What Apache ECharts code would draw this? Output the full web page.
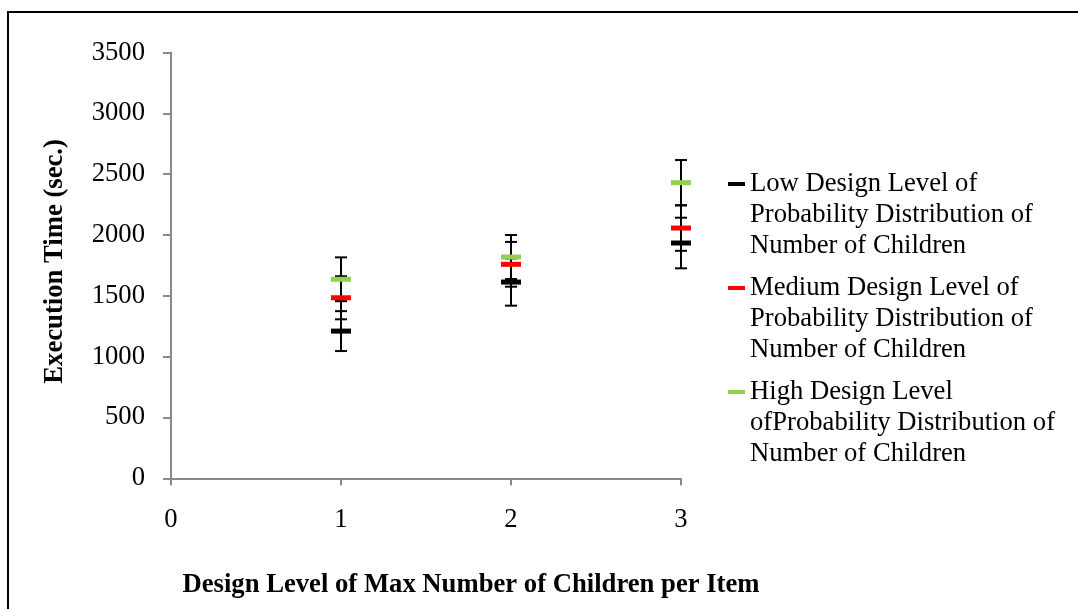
<!DOCTYPE html>
<html>
<head>
<meta charset="utf-8">
<title>Execution Time by Design Level</title>
<script src="https://cdn.jsdelivr.net/npm/echarts@6/dist/echarts.min.js"></script>
<style>
  html, body { margin: 0; padding: 0; background: #ffffff; }
  #chart { width: 1078px; height: 609px; }
</style>
</head>
<body>
<div id="chart"></div>
<script>
// Design levels of max number of children per item (x positions)
const levels = [1, 2, 3];

// Mean execution time (sec.) per probability-distribution design level
const lowMeans = [1210, 1613, 1934];
const mediumMeans = [1484, 1759, 2057];
const highMeans = [1636, 1819, 2430];

// Half-width of each error bar (sec.)
const lowErrors = [164, 194, 208];
const mediumErrors = [177, 184, 187];
const highErrors = [180, 181, 186];

const seriesNames = [
  'Low Design Level of Probability Distribution of Number of Children',
  'Medium Design Level of Probability Distribution of Number of Children',
  'High Design Level ofProbability Distribution of Number of Children'
];
const legendLabels = [
  'Low Design Level of\nProbability Distribution of\nNumber of Children',
  'Medium Design Level of\nProbability Distribution of\nNumber of Children',
  'High Design Level\nofProbability Distribution of\nNumber of Children'
];
const seriesColors = ['#000000', '#ff0000', '#92d050'];

const yTicks = [0, 500, 1000, 1500, 2000, 2500, 3000, 3500];
const xTicks = [0, 1, 2, 3];

const FONT = "'Liberation Serif', 'Times New Roman', serif";
const FS = 26.67;
const AXIS_GRAY = '#898989';

// Legend marker: a short dash sitting on the first line of a three-line label
const LEGEND_ICON = 'path://M0,0 M0,13.5 L17,13.5 L17,17.5 L0,17.5 Z M0,93';

function pointData(means) {
  return levels.map((x, i) => [x, means[i]]);
}
function rangeData(means, errs) {
  return levels.map((x, i) => [x, means[i] - errs[i], means[i] + errs[i]]);
}

// Vertical error bar with end caps
function renderErrorBar(params, api) {
  const x = api.value(0);
  const lo = api.coord([x, api.value(1)]);
  const hi = api.coord([x, api.value(2)]);
  const cap = 6;
  const style = { stroke: '#000000', lineWidth: 2 };
  return {
    type: 'group',
    children: [
      { type: 'line', shape: { x1: lo[0], y1: lo[1], x2: hi[0], y2: hi[1] }, style },
      { type: 'line', shape: { x1: hi[0] - cap, y1: hi[1], x2: hi[0] + cap, y2: hi[1] }, style },
      { type: 'line', shape: { x1: lo[0] - cap, y1: lo[1], x2: lo[0] + cap, y2: lo[1] }, style }
    ]
  };
}

const meansList = [lowMeans, mediumMeans, highMeans];
const errList = [lowErrors, mediumErrors, highErrors];

const errorSeries = meansList.map((m, k) => ({
  name: seriesNames[k] + ' error',
  type: 'custom',
  renderItem: renderErrorBar,
  encode: { x: 0, y: [1, 2] },
  data: rangeData(m, errList[k]),
  silent: true,
  z: 2
}));

const pointSeries = meansList.map((m, k) => ({
  name: seriesNames[k],
  type: 'scatter',
  symbol: 'rect',
  symbolSize: [20, 5],
  itemStyle: { color: seriesColors[k], opacity: 1 },
  data: pointData(m),
  z: 3
}));

const chart = echarts.init(document.getElementById('chart'), null, { renderer: 'canvas' });

chart.setOption({
  backgroundColor: '#ffffff',
  animation: false,
  textStyle: { fontFamily: FONT },
  graphic: [{
    type: 'rect',
    shape: { x: 8, y: 12, width: 1200, height: 800 },
    style: { fill: 'none', stroke: '#000000', lineWidth: 2 },
    silent: true,
    z: 0
  }],
  grid: { left: 171, right: 397, top: 52.5, bottom: 130.7, containLabel: false },
  legend: {
    orient: 'vertical',
    left: 728,
    top: 168.5,
    padding: 0,
    itemWidth: 17,
    itemHeight: 93,
    itemGap: 11,
    selectedMode: false,
    data: seriesNames.map(n => ({ name: n, icon: LEGEND_ICON })),
    formatter: name => legendLabels[seriesNames.indexOf(name)],
    textStyle: { fontFamily: FONT, fontSize: FS, color: '#000000', lineHeight: 31 }
  },
  xAxis: {
    type: 'value',
    min: xTicks[0],
    max: xTicks[xTicks.length - 1],
    interval: 1,
    name: 'Design Level of Max Number of Children per Item',
    nameLocation: 'middle',
    nameGap: 93,
    nameTextStyle: { fontFamily: FONT, fontSize: FS, fontWeight: 'bold', color: '#000000', padding: [0, 0, 0, 90] },
    axisLine: { show: true, onZero: false, lineStyle: { color: AXIS_GRAY, width: 2 } },
    axisTick: { show: true, inside: false, length: 7, lineStyle: { color: AXIS_GRAY, width: 2 } },
    axisLabel: { fontFamily: FONT, fontSize: FS, color: '#000000', margin: 28, formatter: v => String(v) },
    splitLine: { show: false }
  },
  yAxis: {
    type: 'value',
    min: yTicks[0],
    max: yTicks[yTicks.length - 1],
    interval: 500,
    name: 'Execution Time (sec.)',
    nameLocation: 'middle',
    nameRotate: 90,
    nameGap: 102,
    nameTextStyle: { fontFamily: FONT, fontSize: FS, fontWeight: 'bold', color: '#000000', padding: [0, 0, 0, 8] },
    axisLine: { show: true, onZero: false, lineStyle: { color: AXIS_GRAY, width: 2 } },
    axisTick: { show: true, inside: false, length: 8, lineStyle: { color: AXIS_GRAY, width: 2 } },
    axisLabel: { fontFamily: FONT, fontSize: FS, color: '#000000', margin: 26, formatter: v => String(v) },
    splitLine: { show: false }
  },
  series: [...errorSeries, ...pointSeries]
});
</script>
</body>
</html>
